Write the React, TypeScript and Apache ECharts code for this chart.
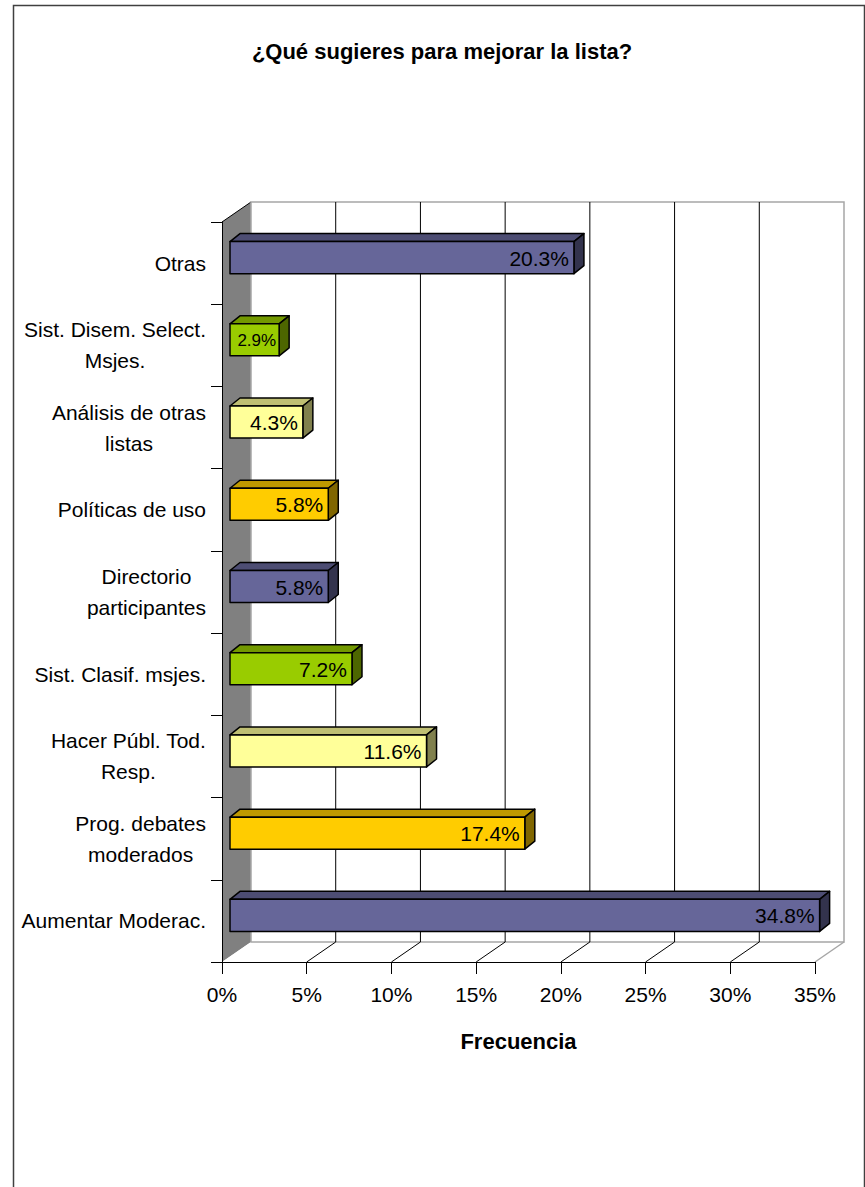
import React, { useEffect, useRef } from "react";
import * as echarts from "echarts";

const titleText = "¿Qué sugieres para mejorar la lista?";
const xAxisName = "Frecuencia";
const categories = [
  "Otras",
  "Sist. Disem. Select.\nMsjes.",
  "Análisis de otras\nlistas",
  "Políticas de uso",
  "Directorio\nparticipantes",
  "Sist. Clasif. msjes.",
  "Hacer Públ. Tod.\nResp.",
  "Prog. debates\nmoderados",
  "Aumentar Moderac.",
];
const values = [20.3, 2.9, 4.3, 5.8, 5.8, 7.2, 11.6, 17.4, 34.8];
const faceColors = ["#666699", "#99CC00", "#FFFF99", "#FFCC00", "#666699", "#99CC00", "#FFFF99", "#FFCC00", "#666699"];
const topColors = ["#4D4D73", "#739900", "#BFBF73", "#BF9900", "#4D4D73", "#739900", "#BFBF73", "#BF9900", "#4D4D73"];
const sideColors = ["#33334D", "#4D6600", "#80804D", "#806600", "#33334D", "#4D6600", "#80804D", "#806600", "#33334D"];
const gridValues = [5, 10, 15, 20, 25, 30, 35];

const FONT = "Arial, 'Liberation Sans', sans-serif";
const WALL_DX = 29;
const WALL_DY = -20;
const BAR_OFF_X = 8;
const BAR_OFF_Y = -5.5;
const BAR_DX = 10;
const BAR_DY = -8;

export default function App() {
  const ref = useRef<HTMLDivElement>(null);
  useEffect(() => {
    if (!ref.current) return;
    const chart = echarts.init(ref.current, null, { renderer: "svg" });

    const wallRender = (params: any, api: any) => {
      const cs = params.coordSys;
      const x0 = cs.x, y0 = cs.y, w = cs.width, h = cs.height;
      const children: any[] = [];
      children.push({
        type: "polygon",
        shape: { points: [[x0, y0], [x0 + WALL_DX, y0 + WALL_DY], [x0 + WALL_DX, y0 + h + WALL_DY], [x0, y0 + h]] },
        style: { fill: "#808080", stroke: null },
      });
      children.push({
        type: "line",
        shape: { x1: x0, y1: y0, x2: x0 + WALL_DX, y2: y0 + WALL_DY },
        style: { stroke: "#000", lineWidth: 1 },
      });
      children.push({
        type: "polygon",
        shape: { points: [[x0, y0 + h], [x0 + w, y0 + h], [x0 + w + WALL_DX, y0 + h + WALL_DY], [x0 + WALL_DX, y0 + h + WALL_DY]] },
        style: { fill: "#fff", stroke: null },
      });
      children.push({
        type: "rect",
        shape: { x: x0 + WALL_DX, y: y0 + WALL_DY, width: w, height: h },
        style: { fill: "#fff", stroke: "#A6A6A6", lineWidth: 1.5 },
      });
      gridValues.forEach((v) => {
        const px = api.coord([v, 0])[0];
        const last = v === gridValues[gridValues.length - 1];
        if (!last) {
          children.push({
            type: "line",
            shape: { x1: px + WALL_DX, y1: y0 + WALL_DY, x2: px + WALL_DX, y2: y0 + h + WALL_DY },
            style: { stroke: "#000", lineWidth: 1 },
          });
        }
        children.push({
          type: "line",
          shape: { x1: px, y1: y0 + h, x2: px + WALL_DX, y2: y0 + h + WALL_DY },
          style: { stroke: last ? "#A6A6A6" : "#000", lineWidth: last ? 1.5 : 1 },
        });
      });
      return { type: "group", children };
    };

    const barRender = (params: any, api: any) => {
      const v = api.value(0);
      const idx = api.value(1);
      const i = params.dataIndex;
      const base = api.coord([0, idx]);
      const end = api.coord([v, idx]);
      const band = api.size([0, 1])[1];
      const fh = band * 0.39;
      const cy = base[1] + BAR_OFF_Y;
      const left = base[0] + BAR_OFF_X;
      const right = end[0] + BAR_OFF_X;
      const top = cy - fh / 2;
      const bottom = cy + fh / 2;
      const stroke = { stroke: "#000", lineWidth: 1.5, lineJoin: "round" };
      const small = right - left < 55;
      return {
        type: "group",
        children: [
          {
            type: "polygon",
            shape: { points: [[left, top], [left + BAR_DX, top + BAR_DY], [right + BAR_DX, top + BAR_DY], [right, top]] },
            style: { fill: topColors[i], ...stroke },
          },
          {
            type: "polygon",
            shape: { points: [[right, top], [right + BAR_DX, top + BAR_DY], [right + BAR_DX, bottom + BAR_DY], [right, bottom]] },
            style: { fill: sideColors[i], ...stroke },
          },
          {
            type: "rect",
            shape: { x: left, y: top, width: right - left, height: bottom - top },
            style: { fill: faceColors[i], ...stroke },
          },
          {
            type: "text",
            style: {
              text: v.toFixed(1) + "%",
              x: small ? right - 3 : right - 5,
              y: cy + 0.5,
              align: "right",
              verticalAlign: "middle",
              font: (small ? "17px " : "21px ") + FONT,
              fill: "#000",
            },
          },
        ],
      };
    };

    chart.setOption({
      animation: false,
      backgroundColor: "#fff",
      title: {
        text: titleText,
        left: 442,
        top: 40,
        textAlign: "center",
        padding: 0,
        textStyle: { fontFamily: FONT, fontSize: 22, fontWeight: "bold", color: "#000" },
      },
      graphic: [
        {
          type: "rect",
          left: 11,
          top: 3,
          shape: { x: 0, y: 0, width: 851, height: 1200 },
          style: { fill: "none", stroke: "#404040", lineWidth: 1.5 },
          z: 100,
        },
      ],
      grid: { left: 222, top: 222, width: 593, height: 740, containLabel: false, outerBoundsMode: "none" },
      xAxis: {
        type: "value",
        min: 0,
        max: 35,
        interval: 5,
        z: 10,
        name: xAxisName,
        nameLocation: "middle",
        nameGap: 68,
        nameTextStyle: { fontFamily: FONT, fontSize: 22, fontWeight: "bold", color: "#000" },
        axisLine: { show: true, lineStyle: { color: "#000", width: 1 } },
        axisTick: { show: true, length: 12, lineStyle: { color: "#000", width: 1 } },
        splitLine: { show: false },
        axisLabel: {
          margin: 22,
          formatter: (v: number) => v + "%",
          fontFamily: FONT,
          fontSize: 21,
          color: "#000",
        },
      },
      yAxis: {
        type: "category",
        data: categories,
        inverse: true,
        z: 10,
        axisLine: { show: true, lineStyle: { color: "#000", width: 1 } },
        axisTick: { show: true, length: 11, interval: 0, lineStyle: { color: "#000", width: 1 } },
        splitLine: { show: false },
        axisLabel: {
          margin: 16,
          interval: 0,
          fontFamily: FONT,
          fontSize: 21,
          color: "#000",
          formatter: (s: string) => s.split("\n").map((l) => "{c|" + l + "}").join("\n"),
          rich: { c: { align: "center", fontFamily: FONT, fontSize: 21, color: "#000", lineHeight: 31 } },
        },
      },
      series: [
        {
          type: "custom",
          renderItem: wallRender,
          data: [[0, 0]],
          encode: { x: 0, y: 1 },
          clip: false,
          silent: true,
          z: 1,
        },
        {
          type: "custom",
          renderItem: barRender,
          data: values.map((v, i) => [v, i]),
          encode: { x: 0, y: 1 },
          clip: false,
          z: 20,
        },
      ],
    });
    return () => chart.dispose();
  }, []);
  return (
    <div
      ref={ref}
      style={{ position: "absolute", left: 0, top: 0, width: 865, height: 1187 }}
    />
  );
}
